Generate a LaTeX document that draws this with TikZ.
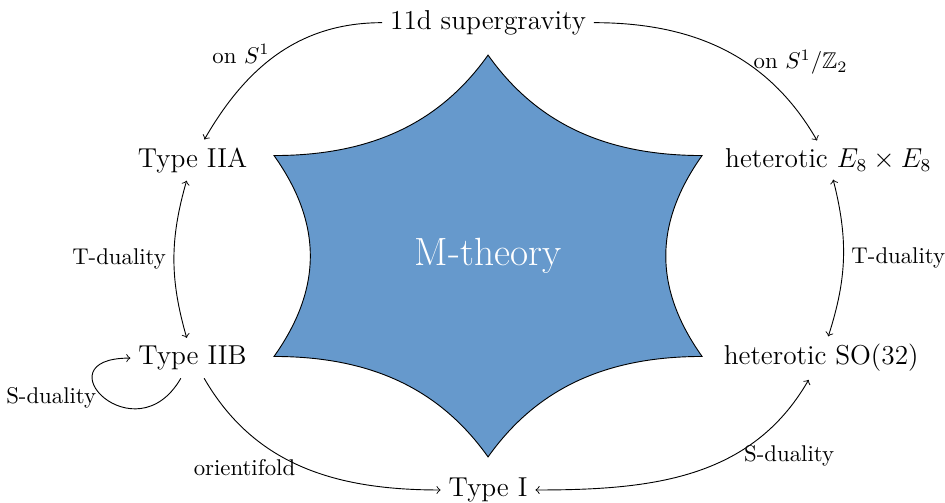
\documentclass[tikz,border=0pt]{standalone}
\usepackage{amssymb}
\usetikzlibrary{positioning}
\definecolor{mblue}{RGB}{102,153,204}
\tikzset{
  theory/.style={font=\large},
  mcore/.style={draw=black, fill=mblue, thin},
  mlabel/.style={font=\LARGE, text=white},
  duality/.style={->},
  bothways/.style={<->},
  tag/.style={font=\normalsize},
}

\begin{document}
\begin{tikzpicture}
  \useasboundingbox (-7.53,-3.80) rectangle (7.05,3.95);

  % M-theory in the middle
  \begin{scope}[xscale=1.23]
    \draw[mcore] (90:3.1)
      \foreach \a in {90,30,-30,-90,-150,-210} {
        .. controls +(\a-150:1.214) and +(\a+90:1.214) .. (\a-60:3.1)
      } -- cycle;
  \end{scope}
  \node[mlabel] (mth) at (0,0) {M-theory};

  % the limits
  \node[theory] (sugra) at (0,3.60) {11d supergravity};
  \node[theory] (iia) at (-4.56,1.48) {Type IIA};
  \node[theory] (iib) at (-4.56,-1.575) {Type IIB};
  \node[theory] (hete) at (5.25,1.48) {heterotic $E_8\times E_8$};
  \node[theory] (heto) at (5.14,-1.575) {heterotic SO(32)};
  \node[theory] (ti) at (0,-3.61) {Type I};

  % compactifications
  \draw[duality] (sugra) to[out=180, in=60] node[tag, pos=0.5, left] {on $S^1$} (iia);
  \draw[duality] (sugra) to[out=0, in=120] node[tag, pos=0.6, right] {on $S^1/\mathbb{Z}_2$} (hete);

  % dualities
  \draw[bothways] (iia) to[bend right=16] node[tag, left] {T-duality} (iib);
  \draw[bothways] (hete) to[bend left=16] node[tag, right] {T-duality} (heto);
  \draw[duality] (iib) to[out=240, in=180, looseness=4.3] node[tag, pos=0.5, left] {S-duality} (iib);
  \draw[duality] (iib) to[out=-60, in=180] node[tag, pos=0.5, left] {orientifold} (ti);
  \draw[bothways] (heto) to[out=240, in=0] node[tag, pos=0.3, anchor=north west, inner sep=1pt, xshift=-2pt, yshift=2pt] {S-duality} (ti);
\end{tikzpicture}
\end{document}
